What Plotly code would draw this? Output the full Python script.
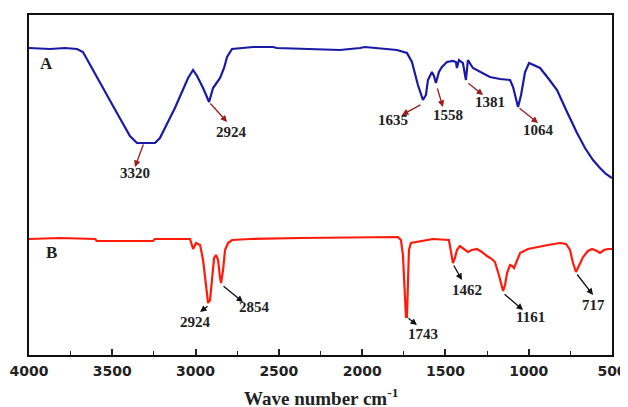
import plotly.graph_objects as go

# ---- Data ----
wave_A = [4000, 3874, 3784, 3712, 3676, 3574, 3472, 3394, 3352, 3298, 3244, 3214, 3124, 3045, 3015,
          2991, 2955, 2919, 2895, 2853, 2829, 2811, 2781, 2655, 2535, 2511, 2373, 2133, 2013, 1983,
          1791, 1731, 1701, 1665, 1635, 1617, 1605, 1581, 1569, 1557, 1539, 1521, 1491, 1455, 1437,
          1431, 1419, 1395, 1377, 1365, 1335, 1293, 1233, 1172, 1112, 1094, 1076, 1064, 1046, 1022,
          998, 968, 932, 884, 830, 770, 710, 662, 614, 572, 536, 500]
trans_A = [307, 306, 307, 306, 303, 272, 242, 219, 212, 212, 212, 217, 247, 277, 285,
           279, 267, 253, 267, 277, 287, 298, 306, 308, 308, 307, 306, 305, 307, 308,
           305, 302, 293, 270, 255, 260, 275, 283, 279, 272, 283, 288, 293, 294, 293,
           287, 295, 292, 275, 295, 287, 283, 278, 276, 275, 268, 255, 248, 260, 283,
           292, 290, 287, 277, 265, 243, 222, 207, 195, 187, 181, 177]

wave_B = [4000, 3814, 3604, 3592, 3256, 3244, 3033, 3015, 2997, 2985, 2973, 2955, 2943, 2931, 2925,
          2913, 2901, 2889, 2877, 2865, 2853, 2847, 2835, 2823, 2805, 2781, 2673, 2373, 1785, 1767,
          1755, 1743, 1737, 1731, 1725, 1719, 1707, 1671, 1575, 1479, 1467, 1455, 1443, 1431, 1413,
          1395, 1365, 1341, 1311, 1281, 1251, 1221, 1203, 1179, 1154, 1142, 1130, 1112, 1100, 1088,
          1070, 1052, 1004, 950, 884, 812, 776, 752, 734, 716, 698, 674, 644, 620, 590,
          572, 548, 524, 500]
trans_B = [116, 117, 116, 114, 114, 116, 116, 106, 112, 111, 110, 95, 75, 55, 52,
           55, 80, 97, 100, 95, 77, 72, 85, 105, 112, 115, 116, 117, 118, 115,
           100, 55, 38, 38, 85, 105, 112, 113, 116, 115, 105, 92, 97, 105, 109,
           107, 103, 105, 106, 103, 99, 96, 93, 80, 64, 70, 82, 90, 89, 87,
           95, 102, 106, 108, 110, 112, 111, 105, 92, 83, 90, 98, 104, 106, 104,
           102, 105, 106, 106]

peaks_A = ["3320", "2924", "1635", "1558", "1381", "1064"]
peaks_B = ["2924", "2854", "1743", "1462", "1161", "717"]
x_ticks = [4000, 3500, 3000, 2500, 2000, 1500, 1000, 500]

# annotation geometry: (tail_x, tail_y, head_x, head_y, label_x, label_y)
geom_A = [(3310, 212, 3364, 188, 3364, 182),
          (2919, 253, 2811, 233, 2787, 223),
          (1641, 251, 1761, 240, 1815, 235),
          (1551, 268, 1515, 248, 1485, 240),
          (1371, 273, 1274, 260, 1232, 253),
          (1064, 248, 944, 232, 944, 225)]
geom_B = [(2919, 50, 2973, 43, 3003, 33),
          (2841, 70, 2715, 53, 2649, 48),
          (1731, 38, 1671, 30, 1635, 21),
          (1455, 91, 1401, 75, 1371, 65),
          (1154, 62, 1034, 45, 992, 38),
          (716, 82, 614, 60, 614, 50)]

fig = go.Figure()
fig.add_trace(go.Scatter(x=wave_A, y=trans_A, mode="lines",
                         line=dict(color="#1a1aa6", width=2.2), showlegend=False))
fig.add_trace(go.Scatter(x=wave_B, y=trans_B, mode="lines",
                         line=dict(color="#ff1a0a", width=2.2), showlegend=False))

ann = []
label_font = dict(family="Liberation Serif", size=15, color="#222222")
for lab, (tx, ty, hx, hy, lx, ly) in zip(peaks_A, geom_A):
    ann.append(dict(x=hx, y=hy, ax=tx, ay=ty, xref="x", yref="y", axref="x", ayref="y",
                    text="", showarrow=True, arrowhead=2, arrowsize=1, arrowwidth=1.3,
                    arrowcolor="#9a1c1c"))
    ann.append(dict(x=lx, y=ly, xref="x", yref="y", text="<b>" + lab + "</b>",
                    showarrow=False, font=label_font, xanchor="center", yanchor="middle"))
for lab, (tx, ty, hx, hy, lx, ly) in zip(peaks_B, geom_B):
    ann.append(dict(x=hx, y=hy, ax=tx, ay=ty, xref="x", yref="y", axref="x", ayref="y",
                    text="", showarrow=True, arrowhead=2, arrowsize=1, arrowwidth=1.3,
                    arrowcolor="#111111"))
    ann.append(dict(x=lx, y=ly, xref="x", yref="y", text="<b>" + lab + "</b>",
                    showarrow=False, font=label_font, xanchor="center", yanchor="middle"))

ann.append(dict(x=3892, y=292, xref="x", yref="y", text="<b>A</b>", showarrow=False,
                font=dict(family="Liberation Serif", size=17, color="#222222")))
ann.append(dict(x=3862, y=103, xref="x", yref="y", text="<b>B</b>", showarrow=False,
                font=dict(family="Liberation Serif", size=17, color="#222222")))
ann.append(dict(x=0.5, y=-0.124, xref="paper", yref="paper", yanchor="middle",
                text="<b>Wave number cm<sup>-1</sup></b>", showarrow=False,
                font=dict(family="Liberation Serif", size=19, color="#222222")))

# page body has an 8px margin, so the figure is smaller and margins shifted
fig.update_layout(
    width=620, height=399,
    margin=dict(l=21, r=16, t=7, b=52, autoexpand=False),
    paper_bgcolor="white", plot_bgcolor="white",
    annotations=ann,
    xaxis=dict(range=[4000, 500], tickvals=x_ticks,
               ticktext=["<b>%d</b>" % v for v in x_ticks],
               ticks="inside", ticklen=6, tickwidth=1.5, tickcolor="#222222",
               minor=dict(ticks="inside", dtick=250, tick0=0, ticklen=4, tickwidth=1.2, tickcolor="#222222"),
               showline=True, linecolor="#111111", linewidth=2.2, mirror=True,
               showgrid=False, zeroline=False, automargin=False,
               tickfont=dict(family="DejaVu Sans", size=14, color="#222222"),
               ticklabelstandoff=2),
    yaxis=dict(range=[0, 340], showticklabels=False, ticks="",
               showline=True, linecolor="#111111", linewidth=2.2, mirror=True,
               showgrid=False, zeroline=False, automargin=False),
)

fig.write_html("out.html")
